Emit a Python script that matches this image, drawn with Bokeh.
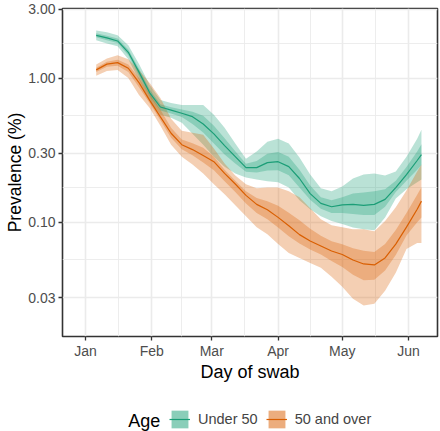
import pandas as pd
from datetime import datetime
from bokeh.plotting import figure
from bokeh.layouts import column
from bokeh.models import (ColumnDataSource, Range1d, FixedTicker, PrintfTickFormatter,
                          DatetimeTickFormatter, Legend, LegendItem, Label)
from bokeh.embed import file_html
from bokeh.resources import INLINE

# ---------------- data (prevalence, %) ----------------
dates = ["2021-01-06", "2021-01-11", "2021-01-16", "2021-01-21", "2021-01-26", "2021-01-31",
         "2021-02-05", "2021-02-10", "2021-02-15", "2021-02-20", "2021-02-25", "2021-03-02",
         "2021-03-07", "2021-03-12", "2021-03-17", "2021-03-22", "2021-03-27", "2021-04-01",
         "2021-04-06", "2021-04-11", "2021-04-16", "2021-04-21", "2021-04-26", "2021-05-01",
         "2021-05-06", "2021-05-11", "2021-05-16", "2021-05-21", "2021-05-26", "2021-05-31",
         "2021-06-05", "2021-06-07"]

u50_mid = [1.98, 1.90, 1.81, 1.51, 1.10, 0.79, 0.63, 0.60, 0.57, 0.54, 0.48, 0.41, 0.34, 0.285,
           0.239, 0.239, 0.259, 0.263, 0.243, 0.201, 0.158, 0.135, 0.128, 0.132, 0.133, 0.131,
           0.133, 0.144, 0.174, 0.214, 0.268, 0.294]
u50_hi95 = [2.14, 2.08, 1.98, 1.69, 1.25, 0.895, 0.705, 0.672, 0.651, 0.651, 0.651, 0.556, 0.452,
            0.351, 0.276, 0.309, 0.362, 0.380, 0.351, 0.281, 0.214, 0.172, 0.164, 0.177, 0.201,
            0.214, 0.218, 0.211, 0.225, 0.285, 0.380, 0.438]
u50_lo95 = [1.83, 1.74, 1.66, 1.35, 0.97, 0.694, 0.556, 0.530, 0.490, 0.411, 0.345, 0.285, 0.243,
            0.218, 0.204, 0.198, 0.192, 0.189, 0.174, 0.142, 0.123, 0.110, 0.102, 0.097, 0.092,
            0.0895, 0.088, 0.108, 0.146, 0.169, 0.189, 0.198]
u50_hi50 = [2.05, 1.97, 1.88, 1.58, 1.16, 0.832, 0.658, 0.627, 0.605, 0.583, 0.547, 0.467, 0.383,
            0.311, 0.254, 0.266, 0.298, 0.307, 0.284, 0.231, 0.180, 0.149, 0.142, 0.149, 0.158,
            0.161, 0.164, 0.169, 0.194, 0.242, 0.310, 0.348]
u50_lo50 = [1.92, 1.83, 1.75, 1.44, 1.04, 0.746, 0.596, 0.568, 0.537, 0.481, 0.419, 0.352, 0.295,
            0.255, 0.224, 0.221, 0.228, 0.229, 0.212, 0.174, 0.143, 0.124, 0.116, 0.116, 0.114,
            0.112, 0.112, 0.128, 0.162, 0.194, 0.231, 0.249]

o50_mid = [1.14, 1.25, 1.28, 1.17, 0.93, 0.70, 0.538, 0.414, 0.345, 0.319, 0.290, 0.263, 0.218,
           0.184, 0.1535, 0.133, 0.122, 0.108, 0.0946, 0.082, 0.074, 0.0683, 0.0631, 0.0597,
           0.0547, 0.0513, 0.0505, 0.0565, 0.0705, 0.0924, 0.123, 0.140]
o50_hi95 = [1.24, 1.37, 1.44, 1.35, 1.14, 0.924, 0.728, 0.522, 0.431, 0.418, 0.405, 0.324, 0.255,
            0.211, 0.183, 0.172, 0.174, 0.174, 0.164, 0.149, 0.125, 0.105, 0.0954, 0.0924, 0.0895,
            0.0895, 0.0867, 0.102, 0.127, 0.166, 0.225, 0.251]
o50_lo95 = [1.04, 1.12, 1.14, 1.00, 0.763, 0.621, 0.467, 0.345, 0.285, 0.251, 0.218, 0.183, 0.156,
            0.131, 0.110, 0.0924, 0.0826, 0.0705, 0.0611, 0.0565, 0.0522, 0.0482, 0.0418, 0.0356,
            0.0294, 0.0264, 0.0272, 0.0334, 0.0445, 0.0651, 0.0716, 0.0716]
o50_hi50 = [1.18, 1.30, 1.34, 1.24, 1.00, 0.777, 0.603, 0.452, 0.375, 0.353, 0.329, 0.285, 0.231,
            0.194, 0.164, 0.147, 0.140, 0.130, 0.1165, 0.103, 0.0902, 0.0804, 0.0738, 0.0704,
            0.066, 0.0634, 0.062, 0.0706, 0.0882, 0.116, 0.155, 0.175]
o50_lo50 = [1.10, 1.20, 1.22, 1.10, 0.863, 0.669, 0.510, 0.386, 0.321, 0.291, 0.260, 0.2295, 0.192,
            0.162, 0.135, 0.116, 0.105, 0.092, 0.080, 0.0712, 0.0647, 0.0598, 0.0539, 0.0489,
            0.0432, 0.0396, 0.0399, 0.0463, 0.0592, 0.0808, 0.100, 0.108]

series_labels = ["Under 50", "50 and over"]
legend_title = "Age"
month_ticks = ["2021-01-01", "2021-02-01", "2021-03-01", "2021-04-01", "2021-05-01", "2021-06-01"]
y_ticks = [0.03, 0.1, 0.3, 1.0, 3.0]
y_minor_ticks = [0.0548, 0.173, 0.548, 1.73]

# ---------------- styling ----------------
GREEN = "#1b9e77"
ORANGE = "#d95f02"
FONT = "Liberation Sans"
GRID = "#ebebeb"

x = pd.to_datetime(dates)
src_u = ColumnDataSource(dict(x=x, mid=u50_mid, lo95=u50_lo95, hi95=u50_hi95, lo50=u50_lo50, hi50=u50_hi50))
src_o = ColumnDataSource(dict(x=x, mid=o50_mid, lo95=o50_lo95, hi95=o50_hi95, lo50=o50_lo50, hi50=o50_hi50))

# ---------------- main chart ----------------
p = figure(width=440, height=386, x_axis_type="datetime", y_axis_type="log",
           x_range=Range1d(datetime(2020, 12, 21, 6), datetime(2021, 6, 14, 12)),
           y_range=Range1d(0.0161, 3.04),
           output_backend="svg", toolbar_location=None, title=None,
           min_border_left=62, min_border_right=3, min_border_top=8, min_border_bottom=50)
p.background_fill_color = "white"
p.border_fill_color = "white"
p.outline_line_color = "#333333"
p.outline_line_width = 1.6

p.varea(x="x", y1="lo95", y2="hi95", source=src_u, fill_color=GREEN, fill_alpha=0.3)
p.varea(x="x", y1="lo95", y2="hi95", source=src_o, fill_color=ORANGE, fill_alpha=0.3)
p.varea(x="x", y1="lo50", y2="hi50", source=src_u, fill_color=GREEN, fill_alpha=0.3)
p.varea(x="x", y1="lo50", y2="hi50", source=src_o, fill_color=ORANGE, fill_alpha=0.3)
p.line(x="x", y="mid", source=src_u, line_color=GREEN, line_width=1.2)
p.line(x="x", y="mid", source=src_o, line_color=ORANGE, line_width=1.2)

# x axis
xt_ms = [t.value / 1e6 for t in pd.to_datetime(month_ticks)]
xt_minor = [(a + b) / 2 for a, b in zip(xt_ms[:-1], xt_ms[1:])]
xticker = FixedTicker(ticks=xt_ms, minor_ticks=xt_minor)
p.xaxis.ticker = xticker
p.xgrid.ticker = xticker
fmt = "%b"
p.xaxis.formatter = DatetimeTickFormatter(milliseconds=fmt, seconds=fmt, minsec=fmt, minutes=fmt,
                                          hourmin=fmt, hours=fmt, days=fmt, months=fmt, years=fmt)
# y axis
yticker = FixedTicker(ticks=y_ticks, minor_ticks=y_minor_ticks)
p.yaxis.ticker = yticker
p.ygrid.ticker = yticker
p.yaxis.formatter = PrintfTickFormatter(format="%.2f")

for ax in (p.xaxis, p.yaxis):
    ax.axis_line_color = None
    ax.major_tick_line_color = "#333333"
    ax.major_tick_line_width = 1.3
    ax.major_tick_out = 4
    ax.major_tick_in = 0
    ax.minor_tick_out = 0
    ax.minor_tick_in = 0
    ax.major_label_text_font = FONT
    ax.major_label_text_font_size = "14px"
    ax.major_label_text_color = "#4d4d4d"
    ax.axis_label_text_font = FONT
    ax.axis_label_text_font_style = "normal"
    ax.axis_label_text_color = "black"

p.xaxis.axis_label = "Day of swab"
p.yaxis.axis_label = "Prevalence (%)"
p.xaxis.axis_label_text_font_size = "18px"
p.yaxis.axis_label_text_font_size = "17.5px"
p.xaxis.major_label_standoff = 2
p.xaxis.axis_label_standoff = 0
p.yaxis.major_label_standoff = 3
p.yaxis.axis_label_standoff = 0

for g in (p.xgrid, p.ygrid):
    g.grid_line_color = GRID
    g.grid_line_width = 1.6
    g.minor_grid_line_color = GRID
    g.minor_grid_line_width = 0.9

# ---------------- legend strip (its frame is aligned with the chart frame) ----------------
leg = figure(width=440, height=45, x_range=Range1d(0, 1), y_range=Range1d(0, 1),
             x_axis_location=None, y_axis_location=None, toolbar_location=None,
             output_backend="svg", title=None, min_border=0)
leg.grid.visible = False
leg.outline_line_color = None
leg.background_fill_color = "white"
leg.border_fill_color = "white"

# style proxies: same sources, but lying outside this strip's ranges, so only the legend keys show
proxies = []
for src, col in ((src_u, GREEN), (src_o, ORANGE)):
    r1 = leg.varea(x="x", y1="lo95", y2="hi95", source=src, fill_color=col, fill_alpha=0.3)
    r2 = leg.varea(x="x", y1="lo50", y2="hi50", source=src, fill_color=col, fill_alpha=0.3)
    r3 = leg.line(x="x", y="mid", source=src, line_color=col, line_width=1.2)
    proxies.append([r1, r2, r3])

legend = Legend(items=[LegendItem(label=series_labels[0], renderers=proxies[0]),
                       LegendItem(label=series_labels[1], renderers=proxies[1])],
                orientation="horizontal", location=(107, 1))
legend.label_text_font = FONT
legend.label_text_font_size = "14.5px"
legend.glyph_width = 21
legend.glyph_height = 22
legend.label_height = 22
legend.label_standoff = 8
legend.spacing = 8
legend.padding = 0
legend.margin = 0
legend.border_line_color = None
legend.background_fill_alpha = 0
leg.add_layout(legend, "center")

leg.add_layout(Label(x=65.7, y=11, x_units="screen", y_units="screen", text=legend_title,
                     text_font=FONT, text_font_size="18px", text_baseline="middle",
                     text_align="left", text_color="black"))

layout = column(p, leg, spacing=0)
open("out.html", "w").write(file_html(layout, INLINE))
